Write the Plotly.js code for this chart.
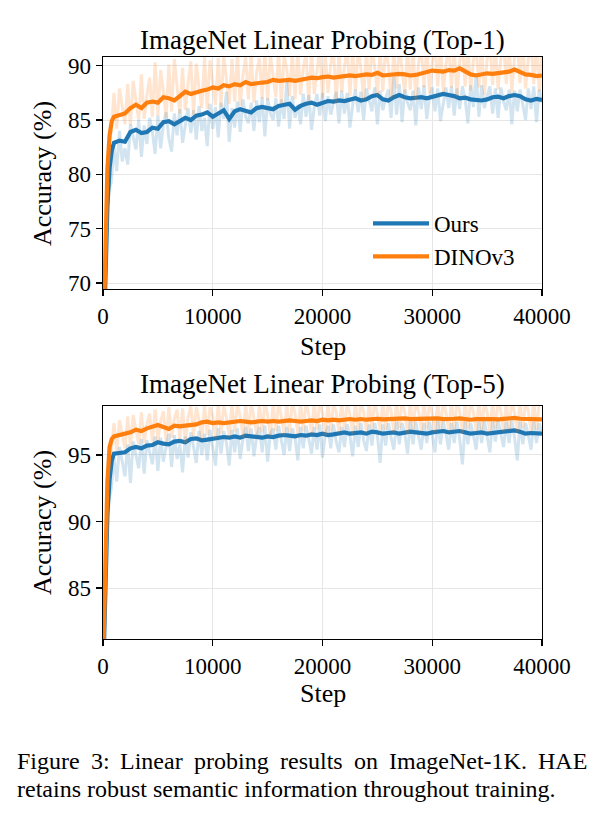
<!DOCTYPE html>
<html>
<head>
<meta charset="utf-8">
<script src="https://cdn.plot.ly/plotly-3.0.1.min.js"></script>
<style>
  html, body { margin: 0; padding: 0; background: #fff; }
  #chart { width: 601px; height: 814px; }
</style>
</head>
<body>
<div id="chart"></div>
<script>
// ---- Smoothed curves (EMA of the probe accuracy), sampled on smoothSteps ----
const smoothSteps = [
  0, 200, 400, 600, 800, 1000,
  1500, 2000, 2500, 3000, 3500, 4000, 4500, 5000, 5500, 6000,
  6500, 7000, 7500, 8000, 8500, 9000, 9500, 10000, 10500, 11000,
  11500, 12000, 12500, 13000, 13500, 14000, 14500, 15000, 15500, 16000,
  16500, 17000, 17500, 18000, 18500, 19000, 19500, 20000, 20500, 21000,
  21500, 22000, 22500, 23000, 23500, 24000, 24500, 25000, 25500, 26000,
  26500, 27000, 27500, 28000, 28500, 29000, 29500, 30000, 30500, 31000,
  31500, 32000, 32500, 33000, 33500, 34000, 34500, 35000, 35500, 36000,
  36500, 37000, 37500, 38000, 38500, 39000, 39500, 40000
];

const top1OursSmooth = [
  62, 70.5, 77.0, 80.6, 82.2, 82.9,
  83.1, 83.0, 83.9, 84.1, 83.8, 83.9, 84.3, 84.2, 84.8, 84.9,
  84.6, 84.9, 85.2, 85.0, 85.4, 85.5, 85.7, 85.3, 85.6, 85.9,
  85.1, 85.8, 86.0, 85.8, 85.7, 86.1, 86.2, 86.1, 86.0, 86.3,
  86.4, 86.5, 85.95, 86.3, 86.5, 86.6, 86.4, 86.6, 86.75, 86.7,
  86.8, 86.75, 86.9, 87.0, 86.8, 86.9, 87.2, 87.3, 86.9, 86.8,
  87.1, 87.3, 87.1, 87.0, 87.05, 87.1, 87.0, 87.15, 87.2, 87.4,
  87.3, 87.2, 87.0, 87.05, 86.9, 86.85, 86.8, 86.9, 87.1, 87.15,
  87.0, 87.2, 87.3, 87.2, 86.9, 86.8, 86.95, 86.85
];

const top1DinoSmooth = [
  63, 73.0, 80.5, 83.6, 84.9, 85.3,
  85.5, 85.6, 86.1, 86.4, 86.1, 86.6, 86.7, 86.6, 87.1, 87.0,
  86.8, 87.2, 87.6, 87.4, 87.6, 87.7, 87.8, 88.0, 87.9, 88.2,
  88.1, 88.3, 88.2, 88.5, 88.3, 88.4, 88.45, 88.5, 88.7, 88.6,
  88.65, 88.7, 88.6, 88.75, 88.8, 88.9, 88.85, 88.95, 89.0, 88.9,
  88.95, 89.0, 89.1, 89.05, 89.1, 89.2, 89.15, 89.35, 89.1, 89.15,
  89.2, 89.25, 89.2, 89.1, 89.15, 89.3, 89.4, 89.55, 89.5, 89.45,
  89.6, 89.55, 89.75, 89.5, 89.2, 89.1, 89.2, 89.3, 89.25, 89.35,
  89.4, 89.45, 89.65, 89.4, 89.2, 89.15, 89.05, 89.1
];

const top5OursSmooth = [
  78, 84, 90.5, 93.2, 94.6, 95.1,
  95.15, 95.2, 95.5, 95.6, 95.5, 95.7, 95.75, 95.95, 95.85, 95.8,
  96.0, 96.05, 95.95, 96.2, 96.25, 96.1, 96.15, 96.2, 96.3, 96.35,
  96.3, 96.4, 96.3, 96.45, 96.4, 96.35, 96.3, 96.4, 96.35, 96.45,
  96.5, 96.45, 96.4, 96.5, 96.45, 96.55, 96.5, 96.6, 96.5, 96.55,
  96.6, 96.7, 96.6, 96.65, 96.7, 96.6, 96.75, 96.7, 96.6, 96.65,
  96.7, 96.6, 96.65, 96.75, 96.7, 96.65, 96.6, 96.7, 96.75, 96.8,
  96.7, 96.75, 96.8, 96.7, 96.6, 96.65, 96.7, 96.6, 96.65, 96.7,
  96.75, 96.8, 96.85, 96.75, 96.6, 96.65, 96.6, 96.6
];

const top5DinoSmooth = [
  79, 86, 93.0, 95.6, 96.2, 96.4,
  96.5, 96.6, 96.7, 96.9, 96.8, 97.0, 97.15, 97.25, 97.1, 96.95,
  97.2, 97.15, 97.2, 97.25, 97.3, 97.45, 97.5, 97.4, 97.45, 97.4,
  97.45, 97.5, 97.55, 97.5, 97.45, 97.5, 97.55, 97.5, 97.55, 97.5,
  97.55, 97.6, 97.55, 97.5, 97.55, 97.6, 97.55, 97.65, 97.6, 97.65,
  97.6, 97.65, 97.7, 97.65, 97.7, 97.65, 97.7, 97.72, 97.68, 97.7,
  97.65, 97.7, 97.75, 97.7, 97.72, 97.68, 97.7, 97.72, 97.75, 97.7,
  97.68, 97.72, 97.75, 97.7, 97.65, 97.7, 97.72, 97.75, 97.7, 97.68,
  97.72, 97.75, 97.78, 97.72, 97.7, 97.65, 97.7, 97.68
];

// ---- Raw per-evaluation accuracy, logged every 250 steps ----
const rawSteps = [
  0, 250, 500, 750, 1000, 1250, 1500, 1750, 2000, 2250,
  2500, 2750, 3000, 3250, 3500, 3750, 4000, 4250, 4500, 4750,
  5000, 5250, 5500, 5750, 6000, 6250, 6500, 6750, 7000, 7250,
  7500, 7750, 8000, 8250, 8500, 8750, 9000, 9250, 9500, 9750,
  10000, 10250, 10500, 10750, 11000, 11250, 11500, 11750, 12000, 12250,
  12500, 12750, 13000, 13250, 13500, 13750, 14000, 14250, 14500, 14750,
  15000, 15250, 15500, 15750, 16000, 16250, 16500, 16750, 17000, 17250,
  17500, 17750, 18000, 18250, 18500, 18750, 19000, 19250, 19500, 19750,
  20000, 20250, 20500, 20750, 21000, 21250, 21500, 21750, 22000, 22250,
  22500, 22750, 23000, 23250, 23500, 23750, 24000, 24250, 24500, 24750,
  25000, 25250, 25500, 25750, 26000, 26250, 26500, 26750, 27000, 27250,
  27500, 27750, 28000, 28250, 28500, 28750, 29000, 29250, 29500, 29750,
  30000, 30250, 30500, 30750, 31000, 31250, 31500, 31750, 32000, 32250,
  32500, 32750, 33000, 33250, 33500, 33750, 34000, 34250, 34500, 34750,
  35000, 35250, 35500, 35750, 36000, 36250, 36500, 36750, 37000, 37250,
  37500, 37750, 38000, 38250, 38500, 38750, 39000, 39250, 39500, 39750,
  40000
];

const top1OursRaw = [
  62, 73, 78.5, 79.2, 82.5, 80.3, 84.0, 81.2, 82.4, 80.9,
  84.6, 83.5, 82.3, 85.0, 81.6, 84.5, 82.8, 85.2, 83.9, 81.9,
  85.4, 82.4, 84.6, 85.7, 83.3, 82.1, 85.6, 83.6, 86.0, 82.9,
  84.7, 86.1, 83.8, 85.9, 83.2, 86.3, 84.0, 85.2, 82.6, 86.5,
  84.2, 86.2, 83.4, 86.6, 85.1, 87.6, 83.0, 86.1, 84.3, 86.7,
  83.9, 86.9, 85.3, 84.7, 86.6, 84.0, 86.8, 84.8, 87.1, 83.5,
  87.0, 85.6, 85.0, 87.0, 84.4, 86.9, 85.1, 88.5, 84.2, 87.2,
  85.2, 86.4, 84.6, 87.4, 85.3, 87.3, 84.1, 86.2, 87.4, 85.4,
  87.5, 84.9, 87.2, 85.5, 86.6, 87.6, 84.7, 87.7, 85.6, 87.5,
  84.3, 86.4, 87.8, 85.7, 87.6, 85.0, 87.9, 86.7, 85.8, 88.0,
  84.6, 87.7, 85.9, 87.0, 87.8, 85.2, 89.0, 85.5, 88.3, 84.8,
  87.8, 86.6, 85.9, 87.7, 84.5, 88.0, 86.0, 88.2, 85.1, 87.1,
  88.0, 85.8, 87.9, 84.9, 86.5, 88.0, 86.1, 88.1, 85.4, 87.9,
  86.0, 88.1, 86.9, 84.7, 88.2, 86.2, 89.3, 85.3, 88.2, 86.1,
  87.2, 88.1, 85.6, 87.9, 85.2, 88.0, 86.7, 85.9, 87.8, 84.6,
  87.7, 85.8, 87.8, 86.5, 85.0, 87.9, 86.0, 88.1, 84.8, 87.8,
  86.6
];

const top1DinoRaw = [
  63, 76, 82.5, 84.0, 87.5, 84.2, 87.9, 86.1, 84.6, 88.3,
  84.5, 88.6, 86.9, 85.0, 89.2, 85.1, 87.3, 88.9, 85.3, 90.3,
  85.4, 89.6, 87.6, 85.2, 90.1, 85.8, 90.6, 88.0, 85.6, 89.8,
  85.9, 88.4, 90.4, 85.5, 90.2, 87.9, 86.1, 90.8, 86.0, 90.5,
  88.6, 86.4, 90.7, 86.2, 91.0, 88.9, 86.5, 90.6, 86.7, 91.1,
  86.3, 89.1, 90.8, 86.9, 91.2, 86.6, 89.4, 90.7, 87.0, 91.3,
  86.8, 91.0, 89.2, 87.1, 91.4, 86.5, 91.0, 89.6, 87.2, 91.3,
  86.9, 91.5, 87.3, 89.8, 91.1, 86.7, 91.4, 87.4, 89.5, 91.6,
  87.0, 91.2, 87.5, 90.1, 91.5, 86.6, 91.3, 87.6, 89.9, 91.7,
  87.2, 91.4, 87.7, 91.6, 89.7, 86.9, 91.5, 87.8, 91.7, 89.9,
  87.3, 91.5, 87.6, 91.8, 90.0, 87.0, 91.5, 87.9, 91.8, 89.8,
  87.4, 91.6, 87.8, 91.8, 86.8, 90.2, 91.6, 88.0, 91.9, 87.5,
  90.3, 91.7, 88.1, 92.0, 87.6, 90.1, 91.7, 88.0, 91.8, 87.2,
  90.4, 91.9, 88.1, 92.0, 87.7, 90.5, 91.8, 88.0, 91.9, 87.3,
  90.6, 91.9, 88.2, 92.0, 87.8, 90.7, 92.0, 88.3, 92.1, 87.5,
  90.8, 92.0, 88.4, 92.2, 87.9, 90.6, 92.1, 88.3, 92.0, 87.6,
  91.6
];

const top5OursRaw = [
  78, 87, 91.5, 92.4, 94.8, 93.0, 95.6, 94.6, 93.4, 95.8,
  92.9, 96.0, 94.9, 94.0, 96.2, 93.6, 96.1, 95.2, 94.3, 96.4,
  93.8, 96.3, 94.5, 95.6, 96.6, 94.1, 96.5, 94.7, 95.8, 93.7,
  96.4, 94.8, 96.7, 95.6, 94.4, 96.8, 95.0, 96.6, 94.6, 96.9,
  95.7, 94.2, 97.0, 95.1, 96.8, 95.9, 94.2, 96.9, 95.2, 97.0,
  94.7, 96.2, 97.1, 95.3, 97.0, 94.9, 96.4, 97.1, 95.2, 97.2,
  94.5, 96.6, 97.0, 95.4, 97.2, 96.1, 95.0, 97.1, 95.3, 97.0,
  96.3, 94.6, 97.1, 95.5, 97.2, 96.2, 95.1, 97.1, 95.4, 97.3,
  94.8, 96.5, 97.2, 95.5, 97.3, 96.0, 95.2, 97.1, 95.6, 97.3,
  96.4, 94.9, 97.2, 95.6, 97.4, 96.1, 95.3, 97.3, 95.7, 97.4,
  96.5, 94.4, 97.3, 95.7, 97.4, 96.3, 95.4, 97.5, 95.8, 97.4,
  96.6, 95.1, 97.5, 95.8, 97.5, 96.4, 95.4, 97.4, 95.9, 97.5,
  96.5, 95.2, 97.6, 95.8, 97.5, 96.6, 95.4, 97.4, 95.9, 97.5,
  96.2, 94.3, 97.5, 95.8, 97.4, 96.5, 95.4, 97.5, 95.9, 97.6,
  96.4, 95.2, 97.5, 96.0, 97.6, 96.6, 95.6, 97.5, 95.9, 97.6,
  96.3, 94.6, 97.5, 95.8, 97.4, 96.5, 95.4, 97.5, 95.9, 97.4,
  96.5
];

const top5DinoRaw = [
  79, 89, 94.0, 95.4, 97.4, 95.3, 97.6, 96.6, 95.5, 97.9,
  95.6, 98.0, 96.9, 95.8, 98.2, 95.9, 97.3, 98.1, 96.0, 98.4,
  96.1, 97.5, 98.3, 96.0, 98.6, 96.3, 97.7, 98.4, 96.2, 98.5,
  95.9, 97.8, 98.7, 96.4, 98.6, 97.6, 96.2, 98.8, 96.5, 98.6,
  97.9, 96.3, 98.9, 96.6, 98.7, 97.8, 96.4, 98.9, 96.7, 98.8,
  97.9, 96.3, 98.9, 96.6, 99.0, 97.9, 96.5, 98.8, 96.7, 99.0,
  98.0, 96.4, 98.9, 96.8, 99.0, 97.9, 96.5, 98.9, 96.7, 99.0,
  98.1, 96.6, 98.9, 96.8, 99.0, 98.0, 96.6, 99.0, 96.9, 99.0,
  98.1, 96.5, 99.0, 96.8, 98.9, 98.2, 96.7, 99.1, 96.9, 99.0,
  98.0, 96.6, 99.1, 96.9, 99.0, 98.2, 96.7, 99.1, 97.0, 99.0,
  98.1, 96.8, 99.1, 96.9, 99.0, 98.3, 96.7, 99.1, 97.0, 99.0,
  98.2, 96.6, 99.1, 96.9, 99.0, 98.3, 96.8, 99.1, 97.0, 99.0,
  98.1, 96.7, 99.1, 97.0, 99.0, 98.2, 96.8, 99.1, 96.9, 99.0,
  98.3, 96.6, 99.1, 97.0, 99.0, 98.2, 96.8, 99.1, 96.9, 99.0,
  98.2, 96.7, 99.1, 97.0, 99.0, 98.3, 96.8, 99.1, 96.9, 99.0,
  98.2, 96.7, 99.1, 97.0, 99.0, 98.3, 96.8, 99.1, 96.9, 99.0,
  98.7
];

// ---- Text ----
const seriesNames = ["Ours", "DINOv3"];
const panelTitles = ["ImageNet Linear Probing (Top-1)", "ImageNet Linear Probing (Top-5)"];
const xTickVals = [0, 10000, 20000, 30000, 40000];
const top1YTicks = [70, 75, 80, 85, 90];
const top5YTicks = [85, 90, 95];
const xLabel = "Step";
const yLabel = "Accuracy (%)";
const captionLine1 = ["Figure", "3:", "Linear", "probing", "results", "on", "ImageNet-1K.", "HAE"];
const captionLine2 = "retains robust semantic information throughout training.";

// ---- Style ----
const BLUE = "#1f77b4", ORANGE = "#ff7f0e";
const BLUE_RAW = "rgba(31,119,180,0.2)", ORANGE_RAW = "rgba(255,127,14,0.2)";
const SERIF = "Liberation Serif, Times New Roman, serif";
const W = 601, H = 814;
const px = v => v / W;          // horizontal pixel -> paper
const py = v => 1 - v / H;      // vertical pixel -> paper

function rawTrace(x, y, color, xa, ya) {
  return { x, y, xaxis: xa, yaxis: ya, type: "scatter", mode: "lines",
           line: { color, width: 3 }, showlegend: false, hoverinfo: "skip" };
}
function smoothTrace(x, y, color, name, xa, ya, legend) {
  return { x, y, xaxis: xa, yaxis: ya, type: "scatter", mode: "lines", name,
           line: { color, width: 4.2 }, showlegend: legend, hoverinfo: "skip" };
}

const traces = [
  rawTrace(rawSteps, top1OursRaw, BLUE_RAW, "x", "y"),
  smoothTrace(smoothSteps, top1OursSmooth, BLUE, seriesNames[0], "x", "y", true),
  rawTrace(rawSteps, top1DinoRaw, ORANGE_RAW, "x", "y"),
  smoothTrace(smoothSteps, top1DinoSmooth, ORANGE, seriesNames[1], "x", "y", true),
  rawTrace(rawSteps, top5OursRaw, BLUE_RAW, "x2", "y2"),
  smoothTrace(smoothSteps, top5OursSmooth, BLUE, seriesNames[0], "x2", "y2", false),
  rawTrace(rawSteps, top5DinoRaw, ORANGE_RAW, "x2", "y2"),
  smoothTrace(smoothSteps, top5DinoSmooth, ORANGE, seriesNames[1], "x2", "y2", false)
];

const axisCommon = {
  showline: true, linecolor: "#000", linewidth: 1.3, mirror: true,
  ticks: "outside", ticklen: 6, tickwidth: 1.2, tickcolor: "#000",
  showgrid: true, gridcolor: "#e6e6e6", gridwidth: 1, zeroline: false,
  tickfont: { family: SERIF, size: 23, color: "#000" }, fixedrange: true
};
const xDomain = [px(103), px(542)];

const annotations = [];
function textAt(text, x, y, size, extra) {
  annotations.push(Object.assign({
    text, xref: "paper", yref: "paper", x: px(x), y: py(y),
    xanchor: "center", yanchor: "middle", showarrow: false,
    font: { family: SERIF, size, color: "#000" }
  }, extra || {}));
}
textAt(panelTitles[0], 322.5, 40, 27);
textAt(panelTitles[1], 322.5, 384, 27);
textAt(xLabel, 322.5, 347, 26);
textAt(xLabel, 322.5, 693, 26);
textAt(yLabel, 42, 173, 26, { textangle: -90 });
textAt(yLabel, 42, 522, 26, { textangle: -90 });

// Caption: first line justified across the column, second line ragged.
const capSize = 24, capLeft = 15, capRight = 585;
const ctx = document.createElement("canvas").getContext("2d");
ctx.font = capSize + "px 'Liberation Serif'";
const widths = captionLine1.map(w => ctx.measureText(w).width);
const totalW = widths.reduce((a, b) => a + b, 0);
const gap = (capRight - capLeft - totalW) / (captionLine1.length - 1);
let cx = capLeft;
captionLine1.forEach((w, i) => {
  textAt(w, cx, 761, capSize, { xanchor: "left" });
  cx += widths[i] + gap;
});
textAt(captionLine2, capLeft, 789, capSize, { xanchor: "left" });

const layout = {
  width: W, height: H,
  margin: { l: 0, r: 0, t: 0, b: 0 },
  paper_bgcolor: "#fff", plot_bgcolor: "#fff",
  font: { family: SERIF, color: "#000" },
  showlegend: true,
  legend: {
    x: px(368), y: py(202), xanchor: "left", yanchor: "top",
    bgcolor: "rgba(255,255,255,0)", borderwidth: 0,
    itemwidth: 56, font: { family: SERIF, size: 23, color: "#000" }
  },
  xaxis: Object.assign({}, axisCommon, { domain: xDomain, anchor: "y", range: [0, 40000],
    tickvals: xTickVals, tickformat: "d" }),
  yaxis: Object.assign({}, axisCommon, { domain: [py(289), py(57)], anchor: "x", range: [69.45, 90.8],
    tickvals: top1YTicks }),
  xaxis2: Object.assign({}, axisCommon, { domain: xDomain, anchor: "y2", range: [0, 40000],
    tickvals: xTickVals, tickformat: "d" }),
  yaxis2: Object.assign({}, axisCommon, { domain: [py(639), py(406)], anchor: "x2", range: [81.17, 98.68],
    tickvals: top5YTicks }),
  annotations
};

Plotly.newPlot("chart", traces, layout, { staticPlot: true, displayModeBar: false });
</script>
</body>
</html>
